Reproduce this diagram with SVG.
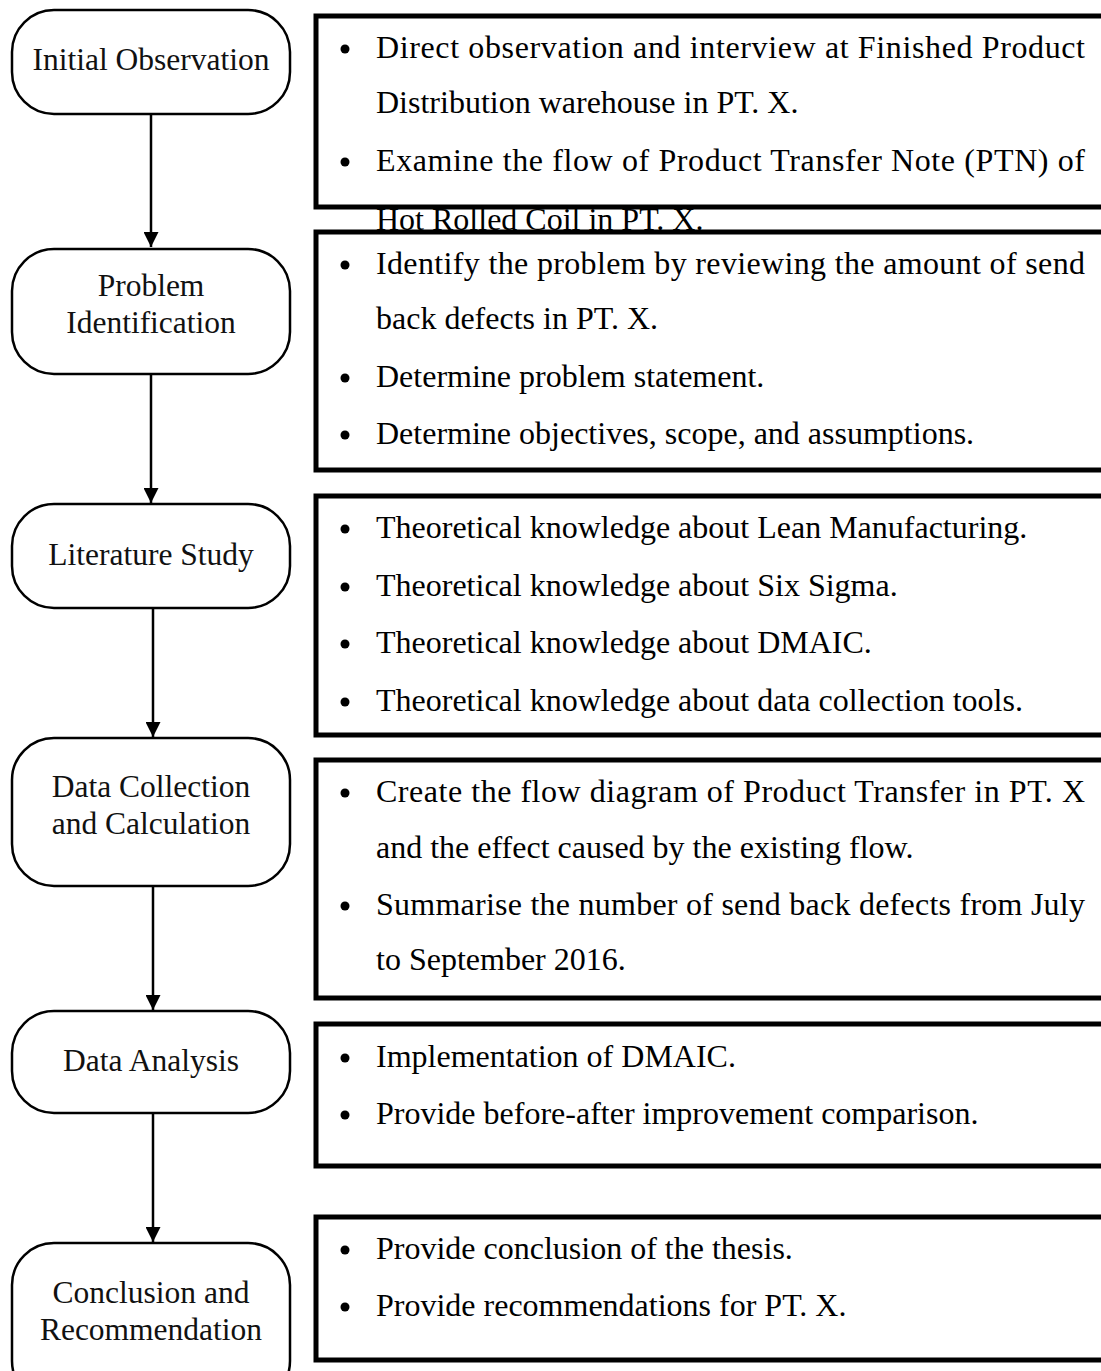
<svg xmlns="http://www.w3.org/2000/svg" width="1101" height="1371" viewBox="0 0 1101 1371">
  <style>
    .step rect { fill: #fff; stroke: #000; stroke-width: 2.5; }
    .step text { font-family: "Liberation Serif", "Times New Roman", serif; font-size: 31.5px; fill: #111; text-anchor: middle; }
    .box rect { fill: #fff; stroke: #000; stroke-width: 5; }
    .box text { font-family: "Liberation Serif", "Times New Roman", serif; font-size: 32px; fill: #000; }
    .box circle { fill: #000; }
    .link { stroke: #000; stroke-width: 2.5; fill: none; marker-end: url(#arrow); }
  </style>
  <defs>
    <marker id="arrow" viewBox="0 0 10 10" refX="10" refY="5" markerWidth="6" markerHeight="6" markerUnits="strokeWidth" orient="auto">
      <path d="M0,0 L10,5 L0,10 z" fill="#000"/>
    </marker>
  </defs>
  <rect width="1101" height="1371" fill="#fff"/>

  <!-- connectors between the process steps -->
  <g id="connectors">
    <line class="link" x1="151" y1="114" x2="151" y2="247"/>
    <line class="link" x1="151" y1="374" x2="151" y2="503"/>
    <line class="link" x1="153" y1="608" x2="153" y2="737"/>
    <line class="link" x1="153" y1="886" x2="153" y2="1010"/>
    <line class="link" x1="153" y1="1113" x2="153" y2="1242"/>
  </g>

  <!-- process steps -->
  <g id="step-initial-observation" class="step">
    <rect x="12" y="10" width="278" height="104" rx="42"/>
    <text x="151" y="70">Initial Observation</text>
  </g>
  <g id="step-problem-identification" class="step">
    <rect x="12" y="249" width="278" height="125" rx="42"/>
    <text x="151" y="296">Problem</text>
    <text x="151" y="333">Identification</text>
  </g>
  <g id="step-literature-study" class="step">
    <rect x="12" y="504" width="278" height="104" rx="42"/>
    <text x="151" y="565">Literature Study</text>
  </g>
  <g id="step-data-collection" class="step">
    <rect x="12" y="738" width="278" height="148" rx="42"/>
    <text x="151" y="797">Data Collection</text>
    <text x="151" y="834">and Calculation</text>
  </g>
  <g id="step-data-analysis" class="step">
    <rect x="12" y="1011" width="278" height="102" rx="42"/>
    <text x="151" y="1071">Data Analysis</text>
  </g>
  <g id="step-conclusion" class="step">
    <rect x="12" y="1243" width="278" height="160" rx="42"/>
    <text x="151" y="1303">Conclusion and</text>
    <text x="151" y="1340">Recommendation</text>
  </g>

  <!-- activity boxes; the last line of the first box runs under the second box -->
  <g id="box-initial-observation" class="box">
    <rect x="316" y="16" width="800" height="191"/>
    <circle cx="345" cy="49" r="4.5"/>
    <text x="376" y="58" textLength="709" lengthAdjust="spacing">Direct observation and interview at Finished Product</text>
    <text x="376" y="113">Distribution warehouse in PT. X.</text>
    <circle cx="345" cy="162" r="4.5"/>
    <text x="376" y="171" textLength="709" lengthAdjust="spacing">Examine the flow of Product Transfer Note (PTN) of</text>
    <text x="376" y="230">Hot Rolled Coil in PT. X.</text>
  </g>
  <g id="box-problem-identification" class="box">
    <rect x="316" y="232" width="800" height="238"/>
    <circle cx="345" cy="265" r="4.5"/>
    <text x="376" y="274" textLength="709" lengthAdjust="spacing">Identify the problem by reviewing the amount of send</text>
    <text x="376" y="329">back defects in PT. X.</text>
    <circle cx="345" cy="378" r="4.5"/>
    <text x="376" y="387">Determine problem statement.</text>
    <circle cx="345" cy="435" r="4.5"/>
    <text x="376" y="444">Determine objectives, scope, and assumptions.</text>
  </g>
  <g id="box-literature-study" class="box">
    <rect x="316" y="496" width="800" height="239"/>
    <circle cx="345" cy="529" r="4.5"/>
    <text x="376" y="538">Theoretical knowledge about Lean Manufacturing.</text>
    <circle cx="345" cy="587" r="4.5"/>
    <text x="376" y="596">Theoretical knowledge about Six Sigma.</text>
    <circle cx="345" cy="644" r="4.5"/>
    <text x="376" y="653">Theoretical knowledge about DMAIC.</text>
    <circle cx="345" cy="702" r="4.5"/>
    <text x="376" y="711">Theoretical knowledge about data collection tools.</text>
  </g>
  <g id="box-data-collection" class="box">
    <rect x="316" y="760" width="800" height="238"/>
    <circle cx="345" cy="793" r="4.5"/>
    <text x="376" y="802" textLength="709" lengthAdjust="spacing">Create the flow diagram of Product Transfer in PT. X</text>
    <text x="376" y="858">and the effect caused by the existing flow.</text>
    <circle cx="345" cy="906" r="4.5"/>
    <text x="376" y="915" textLength="709" lengthAdjust="spacing">Summarise the number of send back defects from July</text>
    <text x="376" y="970">to September 2016.</text>
  </g>
  <g id="box-data-analysis" class="box">
    <rect x="316" y="1024" width="800" height="142"/>
    <circle cx="345" cy="1058" r="4.5"/>
    <text x="376" y="1067">Implementation of DMAIC.</text>
    <circle cx="345" cy="1115" r="4.5"/>
    <text x="376" y="1124">Provide before-after improvement comparison.</text>
  </g>
  <g id="box-conclusion" class="box">
    <rect x="316" y="1217" width="800" height="143"/>
    <circle cx="345" cy="1250" r="4.5"/>
    <text x="376" y="1259">Provide conclusion of the thesis.</text>
    <circle cx="345" cy="1307" r="4.5"/>
    <text x="376" y="1316">Provide recommendations for PT. X.</text>
  </g>
</svg>
